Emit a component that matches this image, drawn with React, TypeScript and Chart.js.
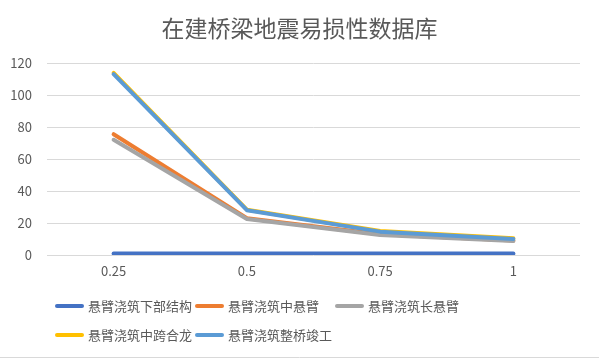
import React, { useEffect, useRef } from "react";
import { Chart, registerables } from "chart.js";

Chart.register(...registerables);

const title = "在建桥梁地震易损性数据库";
const categories = ["0.25", "0.5", "0.75", "1"];
const seriesNames = [
  "悬臂浇筑下部结构",
  "悬臂浇筑中悬臂",
  "悬臂浇筑长悬臂",
  "悬臂浇筑中跨合龙",
  "悬臂浇筑整桥竣工",
];
const seriesColors = ["#4472C4", "#ED7D31", "#A5A5A5", "#FFC000", "#5B9BD5"];
const substructure = [1, 1, 1, 1];
const midCantilever = [75.5, 23, 13, 9];
const longCantilever = [72, 22.5, 12.5, 8.8];
const midSpanClosure = [113.8, 28.3, 15, 10.4];
const bridgeCompletion = [113, 28, 14.6, 10];
const seriesValues = [substructure, midCantilever, longCantilever, midSpanClosure, bridgeCompletion];
const yMin = 0;
const yMax = 120;
const yStep = 20;

const FONT = "'Noto Sans CJK SC', 'Noto Sans', sans-serif";
const TEXT = "#595959";

const decorPlugin = {
  id: "excelDecor",
  afterDraw(chart: any) {
    const ctx = chart.ctx;
    const w = chart.width;
    ctx.save();
    // title
    ctx.font = `23px ${FONT}`;
    ctx.fillStyle = TEXT;
    ctx.textAlign = "center";
    ctx.textBaseline = "middle";
    ctx.fillText(title, w / 2, 28);

    // bottom border line
    ctx.strokeStyle = "#D9D9D9";
    ctx.lineWidth = 1;
    ctx.beginPath();
    ctx.moveTo(0, 357.5);
    ctx.lineTo(w, 357.5);
    ctx.stroke();

    // legend
    const colX = [55, 195, 335];
    const rowY = [306, 335];
    ctx.font = `13px ${FONT}`;
    ctx.textBaseline = "middle";
    ctx.textAlign = "left";
    seriesNames.forEach((name, i) => {
      const col = i % 3;
      const row = Math.floor(i / 3);
      const x = colX[col];
      const y = rowY[row];
      ctx.strokeStyle = seriesColors[i];
      ctx.lineWidth = 4;
      ctx.lineCap = "round";
      ctx.beginPath();
      ctx.moveTo(x + 2, y);
      ctx.lineTo(x + 27, y);
      ctx.stroke();
      ctx.fillStyle = TEXT;
      ctx.fillText(name, x + 33, y);
    });
    ctx.restore();
  },
};

export default function App() {
  const ref = useRef<HTMLCanvasElement>(null);

  useEffect(() => {
    document.body.style.margin = "0";
    const canvas = ref.current!;
    const chart = new Chart(canvas, {
      type: "line",
      data: {
        labels: categories,
        datasets: seriesValues.map((vals, i) => ({
          label: seriesNames[i],
          data: vals,
          borderColor: seriesColors[i],
          backgroundColor: seriesColors[i],
          borderWidth: 4,
          pointRadius: 0,
          tension: 0,
          fill: false,
          order: seriesValues.length - i,
          borderCapStyle: "round" as const,
          borderJoinStyle: "round" as const,
        })),
      },
      options: {
        animation: false,
        responsive: false,
        maintainAspectRatio: false,
        layout: { padding: { left: 0, right: 19, top: 63, bottom: 80 } },
        plugins: {
          legend: { display: false },
          tooltip: { enabled: false },
          title: { display: false },
        },
        scales: {
          x: {
            offset: true,
            grid: { display: false, drawTicks: false },
            border: { display: false },
            ticks: { color: TEXT, font: { family: FONT, size: 13 }, padding: 8 },
            afterFit(scale: any) {
              scale.height = 24;
            },
          },
          y: {
            min: yMin,
            max: yMax,
            grid: { color: "#D9D9D9", drawTicks: false, lineWidth: 1 },
            border: { display: false },
            ticks: {
              stepSize: yStep,
              color: TEXT,
              font: { family: FONT, size: 13 },
              padding: 15,
            },
            afterFit(scale: any) {
              scale.width = 47;
            },
          },
        },
      },
      plugins: [decorPlugin],
    });
    return () => chart.destroy();
  }, []);

  return (
    <div style={{ width: 599, height: 359, background: "#fff" }}>
      <canvas ref={ref} width={599} height={359} style={{ display: "block" }} />
    </div>
  );
}
